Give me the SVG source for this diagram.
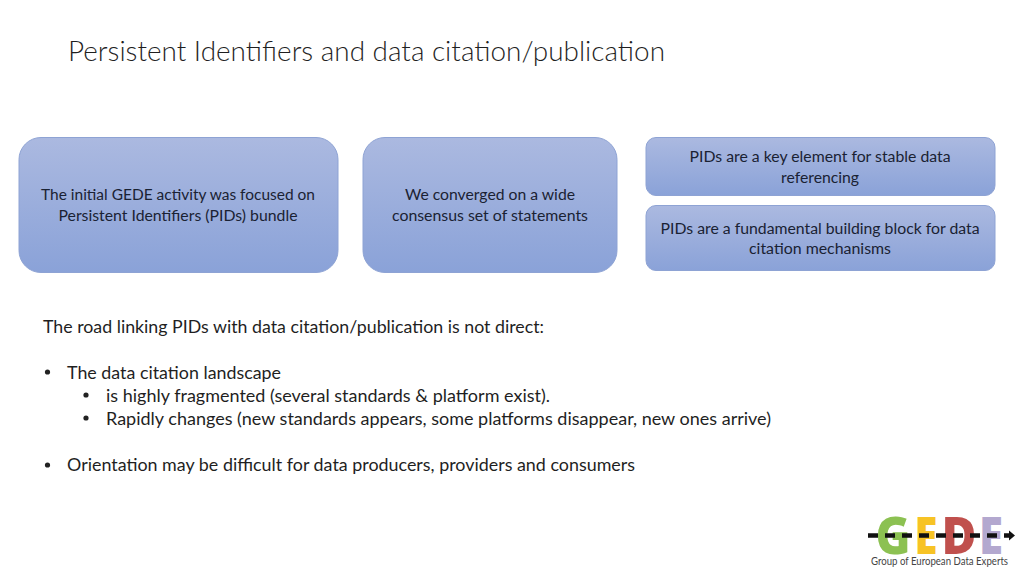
<svg xmlns="http://www.w3.org/2000/svg" width="1024" height="576" viewBox="0 0 1024 576">
<style>
text{font-family:Lato,"Open Sans",sans-serif;fill:#262626}
.t{font-size:27px;font-weight:300;fill:#1f1f1f}
.b{font-size:17.5px;fill:#1f1f1f}
.n{font-size:15.5px;fill:#1a2233;text-anchor:middle}
.box{fill:url(#g);stroke:#8ea3d4;stroke-width:1}
.logo{font-size:52px;font-weight:800;font-family:"Open Sans",sans-serif;text-anchor:middle}
</style>
<defs>
<linearGradient id="g" x1="0" y1="0" x2="0" y2="1"><stop offset="0" stop-color="#abb9e0"/><stop offset="1" stop-color="#8aa2d8"/></linearGradient>
</defs>
<rect width="1024" height="576" fill="#fff"/>
<text class="t" x="68" y="61" textLength="597" lengthAdjust="spacingAndGlyphs">Persistent Identifiers and data citation/publication</text>
<g id="node-initial">
<rect class="box" x="19" y="137.500" width="319" height="135" rx="22"/>
<text class="n" x="178" y="200" textLength="274" lengthAdjust="spacingAndGlyphs">The initial GEDE activity was focused on</text>
<text class="n" x="178" y="221" textLength="239" lengthAdjust="spacingAndGlyphs">Persistent Identifiers (PIDs) bundle</text>
</g>
<g id="node-consensus">
<rect class="box" x="363" y="137.500" width="254" height="135" rx="22"/>
<text class="n" x="490" y="200" textLength="170" lengthAdjust="spacingAndGlyphs">We converged on a wide</text>
<text class="n" x="490" y="221" textLength="196" lengthAdjust="spacingAndGlyphs">consensus set of statements</text>
</g>
<g id="node-stable">
<rect class="box" x="646" y="137.500" width="349" height="58" rx="10"/>
<text class="n" x="820" y="162" textLength="261" lengthAdjust="spacingAndGlyphs">PIDs are a key element for stable data</text>
<text class="n" x="820" y="183" textLength="78" lengthAdjust="spacingAndGlyphs">referencing</text>
</g>
<g id="node-fundamental">
<rect class="box" x="646" y="205.500" width="349" height="65" rx="10"/>
<text class="n" x="820" y="234" textLength="319" lengthAdjust="spacingAndGlyphs">PIDs are a fundamental building block for data</text>
<text class="n" x="820" y="254" textLength="142" lengthAdjust="spacingAndGlyphs">citation mechanisms</text>
</g>
<g id="body">
<text class="b" x="43" y="333" textLength="501" lengthAdjust="spacingAndGlyphs">The road linking PIDs with data citation/publication is not direct:</text>
<circle cx="47.500" cy="372" r="2.600" fill="#222"/>
<text class="b" x="67" y="379" textLength="214" lengthAdjust="spacingAndGlyphs">The data citation landscape</text>
<circle cx="86" cy="395" r="2.600" fill="#222"/>
<text class="b" x="106" y="402" textLength="444" lengthAdjust="spacingAndGlyphs">is highly fragmented (several standards &amp; platform exist).</text>
<circle cx="86" cy="418" r="2.600" fill="#222"/>
<text class="b" x="106" y="425" textLength="665" lengthAdjust="spacingAndGlyphs">Rapidly changes (new standards appears, some platforms disappear, new ones arrive)</text>
<circle cx="47.500" cy="465" r="2.600" fill="#222"/>
<text class="b" x="67" y="471" textLength="568" lengthAdjust="spacingAndGlyphs">Orientation may be difficult for data producers, providers and consumers</text>
</g>
<g id="logo">
<text class="logo" x="893" y="554" style="fill:#8cc152" textLength="35" lengthAdjust="spacingAndGlyphs">G</text>
<text class="logo" x="926" y="554" style="fill:#f7c325" textLength="23" lengthAdjust="spacingAndGlyphs">E</text>
<text class="logo" x="959" y="554" style="fill:#c0504d" textLength="35" lengthAdjust="spacingAndGlyphs">D</text>
<text class="logo" x="991" y="554" style="fill:#b3a8cf" textLength="24" lengthAdjust="spacingAndGlyphs">E</text>
<path d="M868 535.500H1011" stroke="#111" stroke-width="4.500" stroke-dasharray="10 7" fill="none"/>
<path d="M1009 530.500L1015 535.500L1009 540.500Z" fill="#111"/>
<text x="871" y="565" font-size="10.500" textLength="137" lengthAdjust="spacingAndGlyphs" style="fill:#444">Group of European Data Experts</text>
</g>
</svg>
